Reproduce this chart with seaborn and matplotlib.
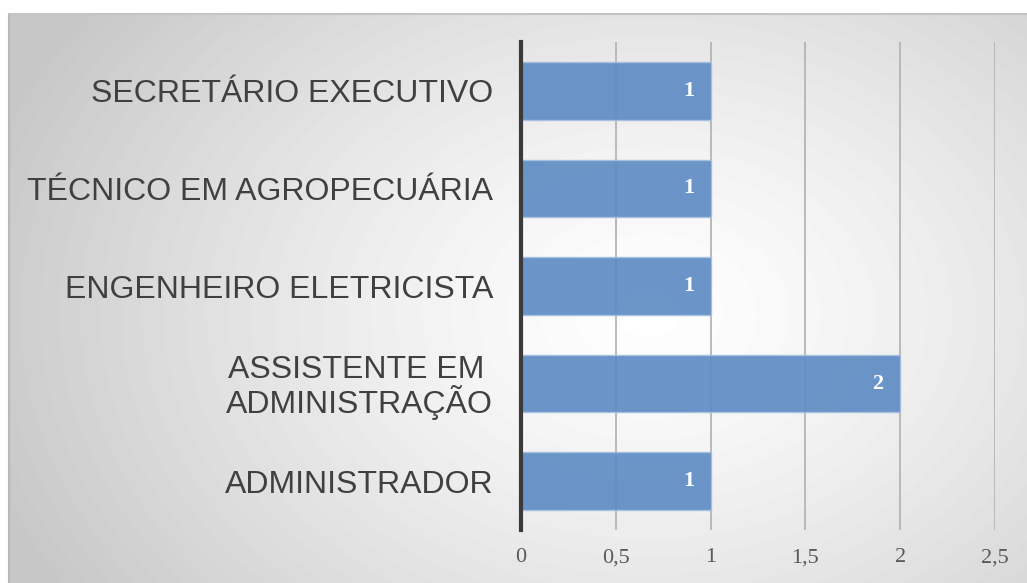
import numpy as np
import pandas as pd
import seaborn as sns
from matplotlib import pyplot as plt

cargos = ['SECRETÁRIO EXECUTIVO', 'TÉCNICO EM AGROPECUÁRIA', 'ENGENHEIRO ELETRICISTA',
          'ASSISTENTE EM \nADMINISTRAÇÃO', 'ADMINISTRADOR']
quantidade = [1, 1, 1, 2, 1]
x_ticks = [0, 0.5, 1, 1.5, 2, 2.5]
x_tick_labels = ['0', '0,5', '1', '1,5', '2', '2,5']

sns.set_style('white')
plt.rcParams['font.family'] = ['Liberation Sans', 'DejaVu Sans']

W, H = 1027, 583
fig = plt.figure(figsize=(W / 100, H / 100), dpi=100, facecolor='white')

# fundo com gradiente radial
bg = fig.add_axes([9 / W, 0, 1 - 9 / W, 1 - 14 / H], zorder=-5)
yy, xx = np.mgrid[0:569, 0:1018]
r = np.sqrt(((xx - 640) / 700) ** 2 + ((yy - 300) / 520) ** 2)
r = np.clip(r, 0, 1)
shade = 1.0 - 0.22 * r ** 1.3
bg.imshow(shade, cmap='gray', vmin=0, vmax=1, aspect='auto', extent=[0, 1, 0, 1])
bg.set_axis_off()
bg.plot([0, 0], [0, 1], color='#b8b8b8', lw=1.5, transform=bg.transAxes, clip_on=False)
bg.plot([0, 1], [1, 1], color='#c4c4c4', lw=1.5, transform=bg.transAxes, clip_on=False)

ax = fig.add_axes([521 / W, 1 - 530 / H, 474 / W, 488 / H])
ax.set_facecolor('none')

df = pd.DataFrame({'cargo': cargos, 'qtd': quantidade})
sns.barplot(data=df, x='qtd', y='cargo', orient='h', color='#5f8cc4', alpha=0.92,
            saturation=1, width=0.59, edgecolor='#a8c0e0', linewidth=1, ax=ax, zorder=3)

ax.set_xlim(0, 2.5)
ax.set_ylim(4.5, -0.5)
ax.set_xticks(x_ticks)
ax.set_xticklabels(x_tick_labels, fontfamily='Liberation Serif', fontsize=16, color='#595959')
ax.tick_params(axis='x', length=0, pad=13)
ax.tick_params(axis='y', length=0, pad=20, labelsize=23, labelcolor='#404040')
for lbl in ax.get_yticklabels():
    lbl.set_linespacing(1.0)
ax.xaxis.grid(True, color='#b5b5b5', lw=1.3, zorder=0)
ax.set_axisbelow(True)
ax.set_xlabel('')
ax.set_ylabel('')
for s in ['top', 'right', 'bottom']:
    ax.spines[s].set_visible(False)
ax.spines['left'].set_color('#3a3a3a')
ax.spines['left'].set_linewidth(3)
ax.spines['left'].set_zorder(5)

labels = ax.bar_label(ax.containers[0], padding=-12, color='white', fontsize=16,
                      fontweight='bold', fontfamily='Liberation Serif')
for t in labels:
    t.set_ha('right')

fig.savefig('out.png', dpi=100)
